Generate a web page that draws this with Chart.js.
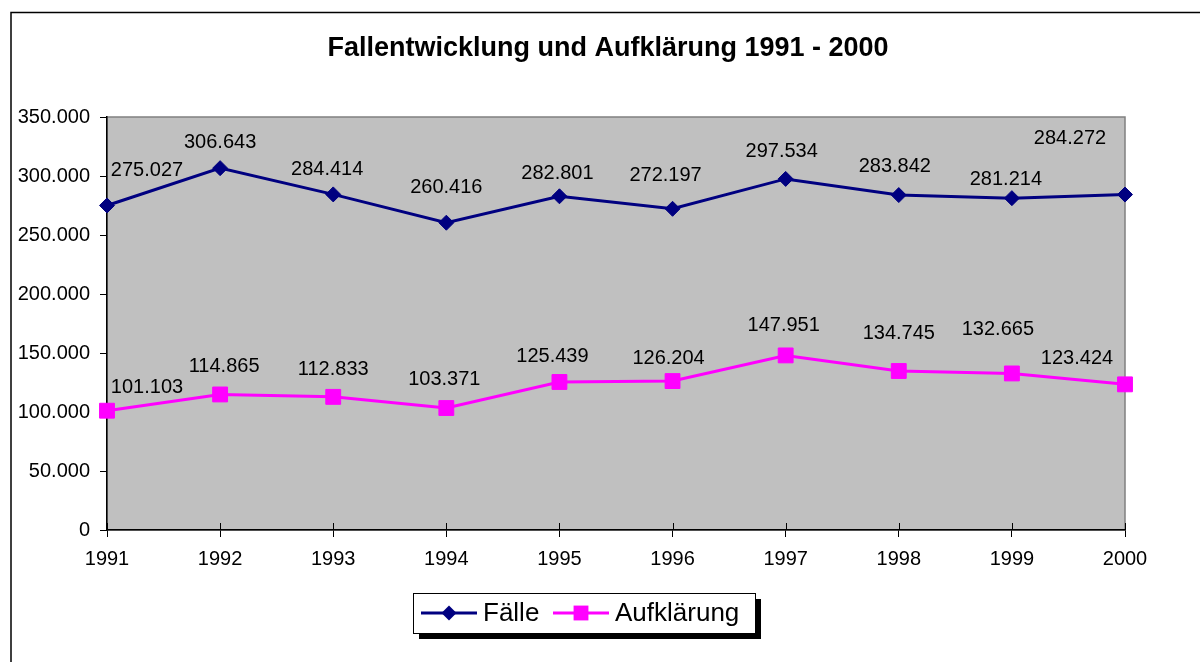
<!DOCTYPE html>
<html>
<head>
<meta charset="utf-8">
<script src="https://cdn.jsdelivr.net/npm/chart.js@4.4.1/dist/chart.umd.min.js"></script>
<style>
  html, body { margin:0; padding:0; background:#fff; }
  #chart { display:block; }
</style>
</head>
<body>
<canvas id="chart" width="1200" height="662"></canvas>
<script>
    // ─── Data ───────────────────────────────────────────────────────────
    const years       = ['1991','1992','1993','1994','1995','1996','1997','1998','1999','2000'];
    const faelle      = [275027, 306643, 284414, 260416, 282801, 272197, 297534, 283842, 281214, 284272];
    const aufklaerung = [101103, 114865, 112833, 103371, 125439, 126204, 147951, 134745, 132665, 123424];
    const yMin = 0, yMax = 350000, yStep = 50000;
    const titleText = 'Fallentwicklung und Aufklärung 1991 - 2000';

    // label placement (relative to point), as Excel put them
    const faelleLabelDx = [40, 0, -6, 0, -2, -7, -4, -4, -6, -55];
    const faelleLabelDy = [-35, -26, -25, -35, -23, -33, -27, -29, -19, -56];
    const aufklLabelDx  = [40, 4, 0, -2, -7, -4, -2, 0, -14, -48];
    const aufklLabelDy  = [-23, -28, -27, -29, -25, -23, -30, -38, -44, -26];

    const FONT = '"Liberation Sans", Arial, sans-serif';
    const fmt = v => Number(v).toLocaleString('de-DE');

    Chart.defaults.font.family = FONT;
    Chart.defaults.color = '#000';

    function markerPath(ctx, style, x, y, r) {
        ctx.beginPath();
        if (style === 'rectRot') {
            ctx.moveTo(x, y - r); ctx.lineTo(x + r, y); ctx.lineTo(x, y + r); ctx.lineTo(x - r, y);
            ctx.closePath();
        } else {
            const s = r * Math.SQRT1_2;
            ctx.rect(x - s, y - s, 2 * s, 2 * s);
        }
    }

    const excelLook = {
        id: 'excelLook',
        beforeDraw(chart) {
            const { ctx, chartArea: a } = chart;
            ctx.save();
            // outer frame (cut off right / bottom)
            ctx.strokeStyle = '#000'; ctx.lineWidth = 1.5;
            ctx.beginPath();
            ctx.moveTo(11, 700); ctx.lineTo(11, 12.5); ctx.lineTo(1210, 12.5);
            ctx.stroke();
            // plot area
            ctx.fillStyle = '#c0c0c0';
            ctx.fillRect(a.left, a.top, a.right - a.left, a.bottom - a.top);
            ctx.strokeStyle = '#808080'; ctx.lineWidth = 1.5;
            ctx.strokeRect(a.left, a.top, a.right - a.left, a.bottom - a.top);
            // title
            ctx.fillStyle = '#000';
            ctx.font = 'bold 27px ' + FONT;
            ctx.textAlign = 'center'; ctx.textBaseline = 'middle';
            ctx.fillText(titleText, 608, 49);
            ctx.restore();
        },
        afterDraw(chart) {
            const { ctx, chartArea: a } = chart;
            const xs = chart.scales.x;
            ctx.save();
            // inner half of the x ticks
            ctx.strokeStyle = '#000'; ctx.lineWidth = 1;
            xs.ticks.forEach((t, i) => {
                const px = Math.round(xs.getPixelForTick(i)) + 0.5;
                ctx.beginPath(); ctx.moveTo(px, a.bottom - 7); ctx.lineTo(px, a.bottom); ctx.stroke();
            });
            // data labels
            ctx.font = '20px ' + FONT;
            ctx.fillStyle = '#000';
            ctx.textAlign = 'center'; ctx.textBaseline = 'middle';
            chart.data.datasets.forEach((ds, di) => {
                const meta = chart.getDatasetMeta(di);
                meta.data.forEach((pt, i) => {
                    ctx.fillText(fmt(ds.data[i]), pt.x + ds.labelDx[i], pt.y + ds.labelDy[i]);
                });
            });
            // legend with shadow
            const lx = 413, ly = 593, lw = 342, lh = 40;
            ctx.fillStyle = '#000'; ctx.fillRect(lx + 6, ly + 6, lw, lh);
            ctx.fillStyle = '#fff'; ctx.fillRect(lx, ly, lw, lh);
            ctx.strokeStyle = '#000'; ctx.lineWidth = 1;
            ctx.strokeRect(lx + 0.5, ly + 0.5, lw, lh);
            const starts = [421, 553];
            const cy = ly + 20;
            ctx.font = '26px ' + FONT;
            ctx.textAlign = 'left';
            chart.data.datasets.forEach((ds, di) => {
                const x0 = starts[di];
                ctx.strokeStyle = ds.borderColor; ctx.lineWidth = ds.borderWidth;
                ctx.beginPath(); ctx.moveTo(x0, cy); ctx.lineTo(x0 + 56, cy); ctx.stroke();
                ctx.fillStyle = ds.pointBackgroundColor;
                markerPath(ctx, ds.pointStyle, x0 + 28, cy, ds.pointRadius);
                ctx.fill();
                ctx.fillStyle = '#000';
                ctx.fillText(ds.label, x0 + 62, cy + 1);
            });
            ctx.restore();
        }
    };

    new Chart(document.getElementById('chart'), {
        type: 'line',
        data: {
            labels: years,
            datasets: [
                { label:'Fälle', data: faelle, borderColor:'#000080', borderWidth:3,
                  pointStyle:'rectRot', pointRadius:7.5, pointBackgroundColor:'#000080', pointBorderColor:'#000080',
                  pointBorderWidth:1, tension:0, clip:false, labelDx: faelleLabelDx, labelDy: faelleLabelDy },
                { label:'Aufklärung', data: aufklaerung, borderColor:'#ff00ff', borderWidth:3,
                  pointStyle:'rect', pointRadius:10.5, pointBackgroundColor:'#ff00ff', pointBorderColor:'#ff00ff',
                  pointBorderWidth:1, tension:0, clip:false, labelDx: aufklLabelDx, labelDy: aufklLabelDy }
            ]
        },
        options: {
            responsive:false, animation:false, devicePixelRatio:1,
            layout:{ padding:{ top:117, right:75, left:0, bottom:0 } },
            plugins:{ legend:{display:false}, tooltip:{enabled:false}, title:{display:false} },
            scales:{
                x:{
                    offset:false,
                    grid:{ drawOnChartArea:false, drawTicks:true, tickLength:7, color:'#000', lineWidth:1 },
                    border:{ display:true, color:'#000', width:1.5 },
                    ticks:{ font:{ size:20 }, color:'#000', padding:10, maxRotation:0, autoSkip:false },
                    afterFit(s) { s.height = 132; }
                },
                y:{
                    min:yMin, max:yMax,
                    grid:{ drawOnChartArea:false, drawTicks:true, tickLength:7, color:'#000', lineWidth:1 },
                    border:{ display:true, color:'#000', width:1.5 },
                    ticks:{ stepSize:yStep, font:{ size:20 }, color:'#000', padding:10, callback: v => fmt(v) },
                    afterFit(s) { s.width = 107; }
                }
            }
        },
        plugins:[excelLook]
    });
</script>
</body>
</html>
